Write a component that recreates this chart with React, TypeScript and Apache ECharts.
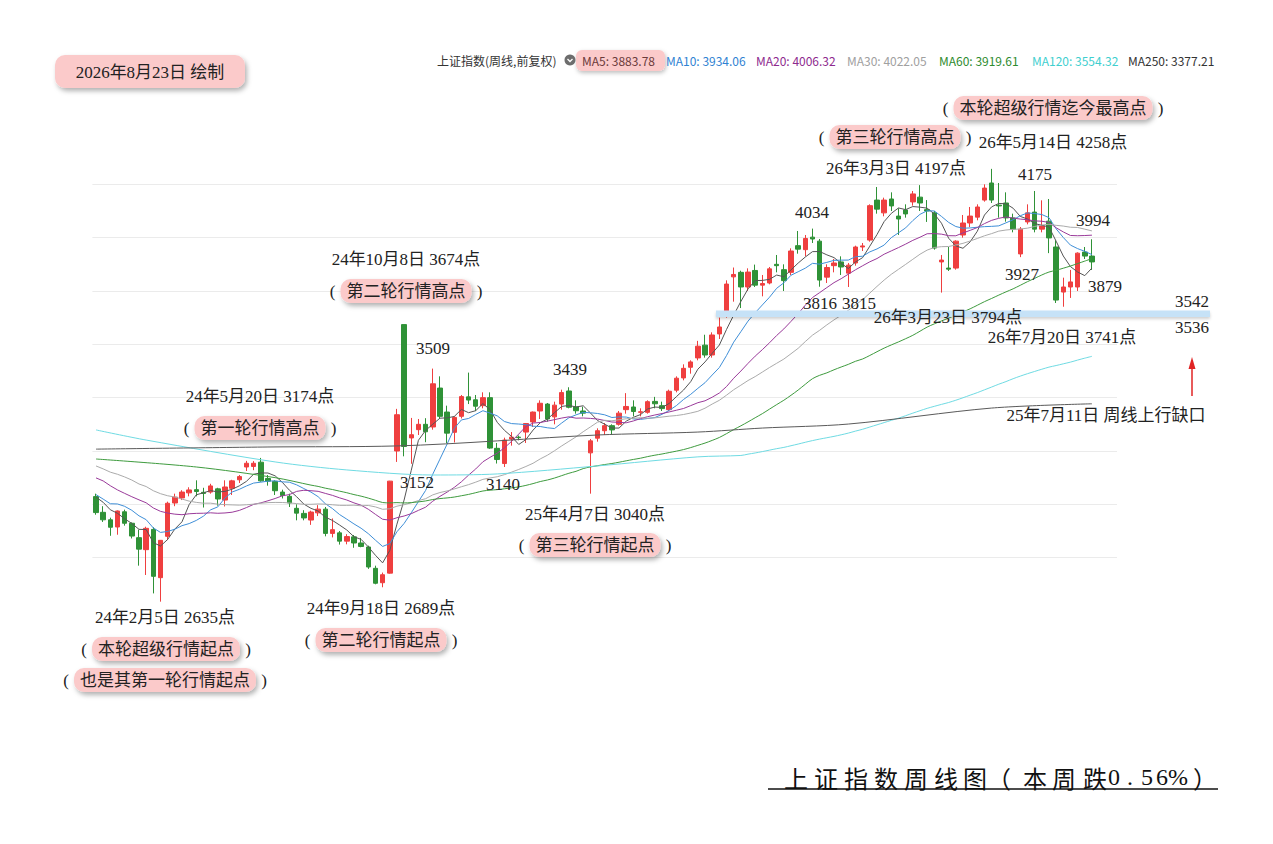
import { useEffect, useRef } from "react";
import * as echarts from "echarts";

// ---------- data ----------
const weeks = [
  "2023-12-04","2023-12-11","2023-12-18","2023-12-25",
  "2024-01-02","2024-01-08","2024-01-15","2024-01-22","2024-01-29","2024-02-05","2024-02-19","2024-02-26",
  "2024-03-04","2024-03-11","2024-03-18","2024-03-25","2024-04-01","2024-04-08","2024-04-15","2024-04-22","2024-04-29",
  "2024-05-06","2024-05-13","2024-05-20","2024-05-27","2024-06-03","2024-06-11","2024-06-17","2024-06-24",
  "2024-07-01","2024-07-08","2024-07-15","2024-07-22","2024-07-29","2024-08-05","2024-08-12","2024-08-19","2024-08-26",
  "2024-09-02","2024-09-09","2024-09-18","2024-09-23","2024-09-30","2024-10-08","2024-10-14","2024-10-21","2024-10-28",
  "2024-11-04","2024-11-11","2024-11-18","2024-11-25","2024-12-02","2024-12-09","2024-12-16","2024-12-23","2024-12-30",
  "2025-01-06","2025-01-13","2025-01-20","2025-01-27","2025-02-05","2025-02-10","2025-02-17","2025-02-24",
  "2025-03-03","2025-03-10","2025-03-17","2025-03-24","2025-03-31","2025-04-07","2025-04-14","2025-04-21","2025-04-28",
  "2025-05-06","2025-05-12","2025-05-19","2025-05-26","2025-06-03","2025-06-09","2025-06-16","2025-06-23","2025-06-30",
  "2025-07-07","2025-07-14","2025-07-21","2025-07-28","2025-08-04","2025-08-11","2025-08-18","2025-08-25",
  "2025-09-01","2025-09-08","2025-09-15","2025-09-22","2025-09-29","2025-10-09","2025-10-13","2025-10-20","2025-10-27",
  "2025-11-03","2025-11-10","2025-11-17","2025-11-24","2025-12-01","2025-12-08","2025-12-15","2025-12-22","2025-12-29",
  "2026-01-05","2026-01-12","2026-01-19","2026-01-26","2026-02-02","2026-02-09","2026-02-23","2026-03-02","2026-03-09",
  "2026-03-16","2026-03-23","2026-03-30","2026-04-07","2026-04-13","2026-04-20","2026-04-27","2026-05-06","2026-05-11",
  "2026-05-18","2026-05-25","2026-06-01","2026-06-08","2026-06-15","2026-06-22","2026-06-29","2026-07-06","2026-07-13",
  "2026-07-20","2026-07-27","2026-08-03","2026-08-10","2026-08-17",
];

const opens = [
  3029,2970,2942,2915,2972,2929,2875,2830,2906,2725,2880,3005,3024,3043,3055,3045,3046,3058,3016,3060,
  3092,3140,3142,3158,3097,3086,3046,3030,2985,2966,2941,2968,2982,2891,2893,2862,2878,2855,2840,2760,
  2706,2742,3200,3674,3249,3280,3300,3290,3436,3346,3270,3330,3403,3392,3370,3400,3210,3153,3245,3252,
  3271,3309,3350,3376,3328,3376,3425,3365,3350,3193,3248,3276,3295,3300,3355,3365,3345,3345,3386,3370,
  3355,3428,3474,3514,3549,3597,3560,3639,3714,3853,3870,3815,3877,3822,3830,3900,3880,3870,3970,3955,
  4002,3987,3852,3895,3909,3867,3905,3965,3991,4141,4093,4145,4081,4104,4134,4152,4105,4093,3909,3886,
  3886,4010,4055,4077,4141,4205,4122,4130,4074,3939,4059,4096,4032,4062,3965,3796,3815,3815,3946,3931,
];
const highs = [
  3040,2993,2950,2977,2980,2932,2905,2916,2914,2866,3010,3040,3053,3064,3090,3062,3077,3062,3090,3092,
  3110,3163,3162,3174,3110,3090,3055,3040,3000,2978,2976,2997,2990,2947,2900,2888,2885,2874,2845,2770,
  2744,3088,3358,3674,3324,3320,3323,3509,3480,3370,3330,3410,3494,3410,3420,3420,3230,3250,3271,3258,
  3305,3348,3390,3380,3385,3430,3439,3390,3366,3245,3285,3305,3300,3350,3417,3390,3360,3390,3403,3385,
  3430,3480,3525,3540,3613,3636,3645,3700,3840,3888,3876,3885,3899,3860,3890,3935,3900,3960,4025,4010,
  4034,3995,3900,3920,3930,3905,3970,3980,4125,4190,4150,4170,4110,4125,4175,4197,4141,4100,3935,3965,
  3990,4085,4115,4125,4200,4258,4205,4170,4090,4040,4125,4175,4140,4145,3990,3850,3879,3945,3965,3994,
];
const lows = [
  2961,2934,2882,2886,2920,2872,2770,2735,2666,2635,2866,2993,3016,3030,3030,2988,3040,2995,2992,3035,
  3080,3125,3128,3085,3070,3035,3022,2990,2940,2940,2923,2956,2880,2876,2849,2850,2837,2839,2758,2700,
  2689,2740,3159,3180,3152,3260,3233,3280,3320,3230,3232,3322,3376,3350,3360,3208,3153,3140,3220,3240,
  3230,3290,3320,3310,3300,3355,3360,3340,3330,3040,3235,3260,3262,3295,3340,3330,3330,3340,3360,3350,
  3350,3420,3465,3490,3540,3550,3550,3620,3700,3760,3736,3800,3815,3780,3825,3870,3800,3860,3940,3930,
  3980,3816,3830,3870,3860,3815,3895,3950,3985,4090,4080,4100,4010,4075,4120,4100,4059,3955,3794,3875,
  3880,4000,4040,4065,4135,4130,4075,4060,4020,3927,4050,4020,4020,3942,3755,3741,3774,3800,3920,3879,
];
const closes = [
  2969,2942,2914,2975,2929,2881,2832,2910,2730,2865,3004,3027,3046,3054,3048,3041,3069,3020,3065,3088,
  3104,3154,3154,3088,3087,3051,3033,3005,2967,2949,2971,2982,2891,2905,2862,2879,2855,2842,2765,2704,
  2736,3087,3336,3217,3261,3300,3272,3452,3330,3267,3326,3404,3391,3368,3400,3211,3168,3241,3252,3250,
  3303,3346,3379,3320,3372,3419,3364,3351,3342,3238,3276,3295,3279,3342,3367,3348,3347,3385,3377,3359,
  3424,3473,3510,3534,3593,3560,3635,3665,3826,3862,3815,3871,3822,3828,3883,3895,3839,3950,3957,3997,
  3995,3841,3888,3905,3890,3897,3965,3969,4120,4107,4141,4119,4070,4089,4164,4130,4100,3961,3916,3882,
  3987,4055,4081,4115,4186,4141,4119,4074,4032,4032,4093,4032,4044,3999,3766,3815,3834,3942,3931,3909,
];
// weekly closes before the first drawn week (needed for the moving averages)
const priorCloses = [
  3272,3284,3212,3230,3231,3273,3198,3202,3197,3237,3168,3276,3288,3189,3132,3065,3133,3117,3118,3132,
  3110,3088,2983,3018,3030,3039,3054,3041,3032,
];
// long averages: [week index, value]
const ma60Early = [[0, 3170], [14, 3140], [25, 3100]];
const ma120Early = [[0, 3279], [7, 3241], [25, 3159], [35, 3129], [47, 3110], [56, 3114], [70, 3144], [84, 3178]];
const ma250Points = [[0, 3207], [24, 3215], [42, 3219], [70, 3260], [84, 3271], [93, 3286], [105, 3301], [125, 3361], [139, 3377]];

const maNames = ["MA5", "MA10", "MA20", "MA30", "MA60", "MA120", "MA250"];
const maLegendValues = [3883.78, 3934.06, 4006.32, 4022.05, 3919.61, 3554.32, 3377.21];

const titleText = "上证指数周线图（本周跌0.56%）";
const dateText = "2026年8月23日 绘制";
const indexName = "上证指数(周线,前复权)";

const notes: [string, number, number][] = [
  ["26年5月14日 4258点", 1053, 142],
  ["26年3月3日 4197点", 896, 168],
  ["4175", 1035, 174],
  ["4034", 812, 212],
  ["3994", 1093, 220],
  ["3927", 1022, 274],
  ["3879", 1105, 286],
  ["3816", 820, 303],
  ["3815", 859, 303],
  ["3542", 1192, 301],
  ["26年3月23日 3794点", 948, 317],
  ["3536", 1192, 327],
  ["26年7月20日 3741点", 1062, 337],
  ["3509", 433, 348],
  ["24年10月8日 3674点", 406, 259],
  ["3439", 570, 369],
  ["24年5月20日 3174点", 260, 396],
  ["25年7月11日 周线上行缺口", 1106, 415],
  ["3152", 417, 482],
  ["3140", 503, 484],
  ["25年4月7日 3040点", 595, 514],
  ["24年2月5日 2635点", 165, 617],
  ["24年9月18日 2689点", 381, 608],
];
const badges: [string, number, number][] = [
  ["本轮超级行情迄今最高点", 1053, 108],
  ["第三轮行情高点", 895, 137],
  ["第二轮行情高点", 406, 291],
  ["第一轮行情高点", 260, 428],
  ["第三轮行情起点", 595, 545],
  ["本轮超级行情起点", 166, 649],
  ["也是其第一轮行情起点", 165, 680],
  ["第二轮行情起点", 381, 640],
];

// ---------- helpers ----------
const allCloses = priorCloses.concat(closes);
function movingAverage(n: number) {
  return closes.map((_, i) => {
    const end = priorCloses.length + i;
    if (end - n + 1 < 0) return null;
    let s = 0;
    for (let k = end - n + 1; k <= end; k++) s += allCloses[k];
    return +(s / n).toFixed(2);
  });
}
function withEarly(n: number, early: number[][]) {
  const computed = movingAverage(n);
  const out: (number | null)[] = computed.slice();
  early.forEach(([i, v]) => {
    if (out[i] == null) out[i] = v;
  });
  return out;
}

const SERIF = "'Liberation Serif','Noto Sans CJK SC',serif";
const SANS = "'Noto Sans CJK SC','Noto Sans',sans-serif";
const RED = "#ef3f3f";
const GREEN = "#2f9237";
const PINK = "#fbcaca";
const maColors = ["#555555", "#3f8fd8", "#9a3a9a", "#ababab", "#3e9b3e", "#6fdbe3", "#5a5a5a"];

function txt(text: string, x: number, y: number, font: string, fill = "#222", align = "center") {
  return {
    type: "text",
    x,
    y,
    z: 100,
    style: { text, font, fill, align, textAlign: align, verticalAlign: "middle", textVerticalAlign: "middle" },
  };
}

function buildGraphics() {
  const g: any[] = [];
  // date badge
  g.push({
    type: "rect", z: 90,
    shape: { x: 55, y: 55, width: 190, height: 33, r: 10 },
    style: { fill: PINK, shadowBlur: 5, shadowOffsetX: 2, shadowOffsetY: 3, shadowColor: "rgba(0,0,0,0.3)" },
  });
  g.push(txt(dateText, 150, 72, `17px ${SERIF}`));

  // header legend
  g.push(txt(indexName, 437, 60, `12px ${SANS}`, "#333", "left"));
  g.push({ type: "circle", z: 100, shape: { cx: 570, cy: 60, r: 5.5 }, style: { fill: "#6d6d6d" } });
  g.push({
    type: "polyline", z: 101,
    shape: { points: [[567.5, 59], [570, 61.5], [572.5, 59]] },
    style: { stroke: "#fff", lineWidth: 1.3, fill: null },
  });
  g.push({
    type: "rect", z: 90,
    shape: { x: 576, y: 50, width: 89, height: 21, r: 6 },
    style: { fill: PINK, shadowBlur: 4, shadowOffsetX: 1, shadowOffsetY: 2, shadowColor: "rgba(0,0,0,0.25)" },
  });
  const legendX = [582, 666, 756, 847, 939, 1032, 1128];
  const legendColors = ["#6b3a3a", "#2f82d2", "#8e2a8e", "#a0a0a0", "#2e8b2e", "#3fcfcf", "#333333"];
  maNames.forEach((n, k) => {
    g.push(txt(`${n}: ${maLegendValues[k].toFixed(2)}`, legendX[k], 60, `12px ${SANS}`, legendColors[k], "left"));
  });

  // gap band
  g.push({
    type: "rect", z: 95,
    shape: { x: 716, y: 310.5, width: 494, height: 6.5 },
    style: { fill: "#c6e2f7", shadowBlur: 3, shadowOffsetY: 2, shadowColor: "rgba(0,0,0,0.18)" },
  });

  // plain notes
  notes.forEach(([t, x, y]) => g.push(txt(t, x, y, `17px ${SERIF}`)));

  // badges with parentheses
  badges.forEach(([t, cx, cy]) => {
    const w = t.length * 17 + 12;
    g.push({
      type: "rect", z: 90,
      shape: { x: cx - w / 2, y: cy - 12, width: w, height: 24, r: 10 },
      style: { fill: PINK, shadowBlur: 5, shadowOffsetX: 2, shadowOffsetY: 3, shadowColor: "rgba(0,0,0,0.3)" },
    });
    g.push(txt(t, cx, cy, `17px ${SERIF}`));
    g.push(txt("(", cx - w / 2 - 8, cy, `17px ${SERIF}`));
    g.push(txt(")", cx + w / 2 + 8, cy, `17px ${SERIF}`));
  });

  // red arrow
  g.push({ type: "line", z: 100, shape: { x1: 1192, y1: 396, x2: 1192, y2: 366 }, style: { stroke: "#e02424", lineWidth: 1.5 } });
  g.push({ type: "polygon", z: 100, shape: { points: [[1192, 357], [1188.5, 369], [1195.5, 369]] }, style: { fill: "#e02424" } });

  // title
  const titleX = [796, 826, 856, 886, 916, 946, 975, 999, 1035, 1064, 1095, 1114, 1130, 1147, 1162, 1178, 1205];
  Array.from(titleText).forEach((ch, k) => {
    const isLatin = /[0-9.%]/.test(ch);
    g.push(txt(ch, titleX[k], 777, isLatin ? `24px 'Liberation Serif',serif` : `24px ${SANS}`, "#111"));
  });
  g.push({ type: "line", z: 100, shape: { x1: 768, y1: 789, x2: 1218, y2: 789 }, style: { stroke: "#111", lineWidth: 1.5 } });
  return g;
}

export default function App() {
  const ref = useRef<HTMLDivElement>(null);
  useEffect(() => {
    if (!ref.current) return;
    const chart = echarts.init(ref.current, null, { renderer: "svg" });
    const candles = weeks.map((_, i) => [opens[i], closes[i], lows[i], highs[i]]);
    const categories = weeks.concat(["pad-1", "pad-2", "pad-3"]);
    const maData = [
      movingAverage(5),
      movingAverage(10),
      movingAverage(20),
      movingAverage(30),
      withEarly(60, ma60Early),
      withEarly(120, ma120Early),
      null,
    ];
    const lineSeries = maNames.map((name, k) => ({
      name,
      type: "line",
      data: k === 6 ? ma250Points : maData[k],
      showSymbol: false,
      symbol: "none",
      smooth: k >= 4 ? 0.3 : false,
      connectNulls: true,
      clip: false,
      z: 3,
      lineStyle: { width: 1, color: maColors[k] },
      itemStyle: { color: maColors[k] },
    }));
    chart.setOption({
      animation: false,
      backgroundColor: "#ffffff",
      grid: { left: 92.42, top: 184.33, width: 1024.6, height: 373.33, containLabel: false },
      xAxis: {
        type: "category",
        data: categories,
        boundaryGap: true,
        axisLine: { show: false },
        axisTick: { show: false },
        axisLabel: { show: false },
        splitLine: { show: false },
      },
      yAxis: {
        type: "value",
        min: 2800,
        max: 4200,
        interval: 200,
        axisLine: { show: false },
        axisTick: { show: false },
        axisLabel: { show: false },
        splitLine: { show: true, lineStyle: { color: "#ebebeb", width: 1 } },
      },
      series: [
        {
          type: "candlestick",
          data: candles,
          barWidth: 5,
          clip: false,
          z: 2,
          itemStyle: { color: RED, color0: GREEN, borderColor: RED, borderColor0: GREEN, borderWidth: 1 },
        },
        ...lineSeries,
      ],
      graphic: buildGraphics(),
    });
    return () => chart.dispose();
  }, []);
  return (
    <div
      ref={ref}
      style={{ position: "fixed", left: 0, top: 0, width: 1273, height: 844, background: "#fff" }}
    />
  );
}
